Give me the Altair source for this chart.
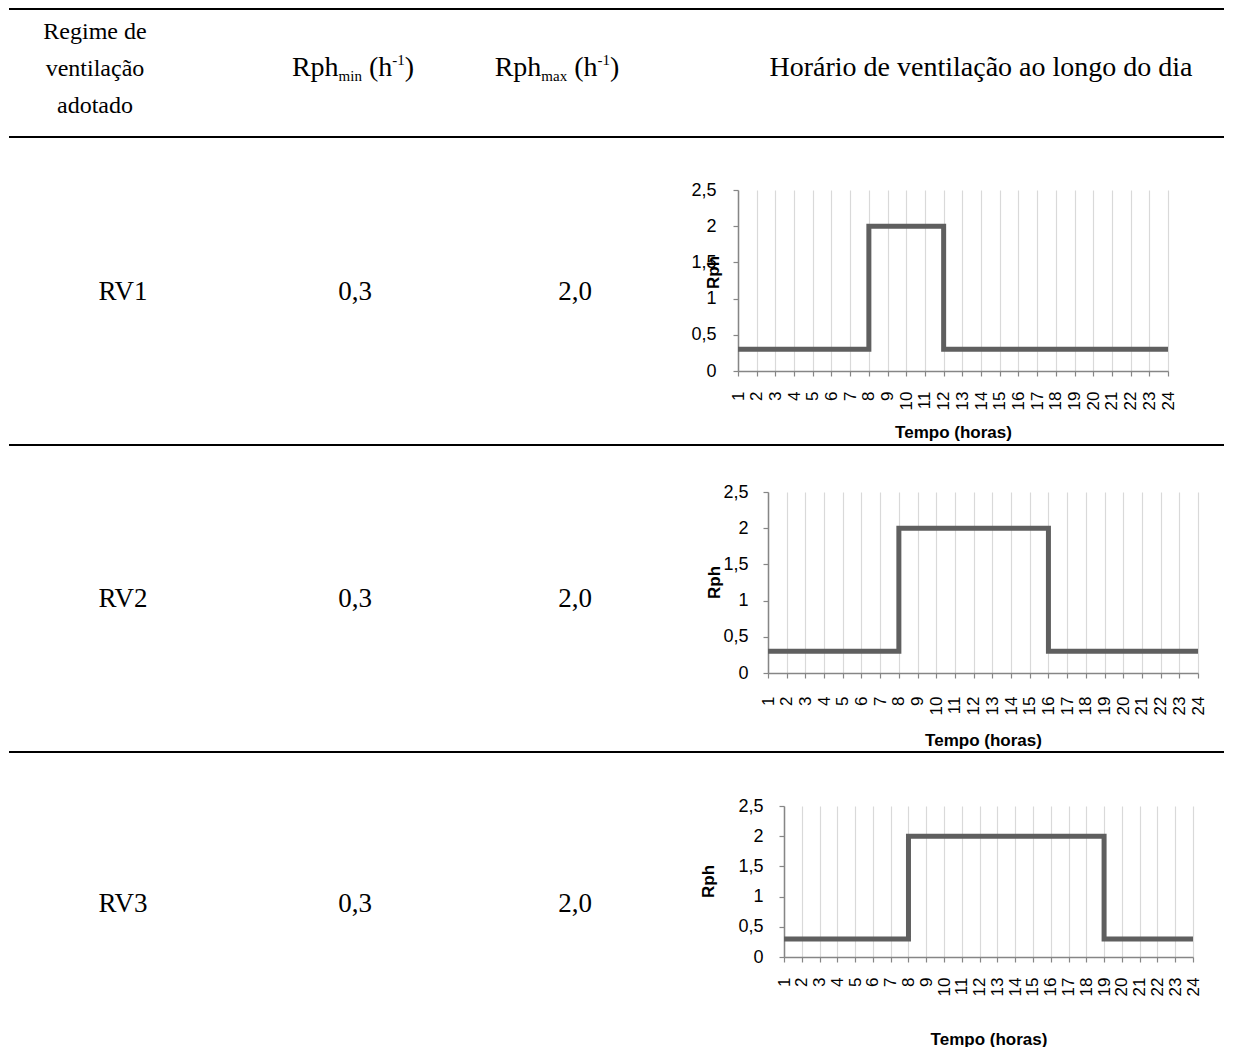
import altair as alt
import pandas as pd

# ---------------- data ----------------
hours = [1, 2, 3, 4, 5, 6, 7, 8, 9, 10, 11, 12, 13, 14, 15, 16, 17, 18, 19, 20, 21, 22, 23, 24]
rv1 = [0.3, 0.3, 0.3, 0.3, 0.3, 0.3, 0.3, 2.0, 2.0, 2.0, 2.0, 0.3,
       0.3, 0.3, 0.3, 0.3, 0.3, 0.3, 0.3, 0.3, 0.3, 0.3, 0.3, 0.3]
rv2 = [0.3, 0.3, 0.3, 0.3, 0.3, 0.3, 0.3, 2.0, 2.0, 2.0, 2.0, 2.0,
       2.0, 2.0, 2.0, 0.3, 0.3, 0.3, 0.3, 0.3, 0.3, 0.3, 0.3, 0.3]
rv3 = [0.3, 0.3, 0.3, 0.3, 0.3, 0.3, 0.3, 2.0, 2.0, 2.0, 2.0, 2.0,
       2.0, 2.0, 2.0, 2.0, 2.0, 2.0, 0.3, 0.3, 0.3, 0.3, 0.3, 0.3]
y_ticks = [0, 0.5, 1, 1.5, 2, 2.5]

regimes = ["RV1", "RV2", "RV3"]
rph_min = ["0,3", "0,3", "0,3"]
rph_max = ["2,0", "2,0", "2,0"]
header_col1 = ["Regime de", "ventilação", "adotado"]
header_col4 = "Horário de ventilação ao longo do dia"
x_title = "Tempo (horas)"
y_title = "Rph"

# ---------------- layout (content px = page px - 8) ----------------
SERIF = "Liberation Serif"
SANS = "Liberation Sans"
F = 27      # table body font
FH = 28     # header font
FH1 = 24    # first header column font
FS = 15     # sub/superscript font
head_col1_x = 94 - 8
row_col_x = [122 - 8, 354 - 8, 574 - 8]
head_min_x = 352 - 8
head_max_x = 556 - 8
head_col4_x = 980 - 8
head_base = [39 - 8, 76 - 8, 113 - 8]
row_base = [300 - 8, 607 - 8, 912 - 8]
rule_y = [1, 137 - 8, 445 - 8, 752 - 8]
RULE_END = 1215
PANEL_W = 700

TW = {'R': .667, 'p': .5, 'h': .5, 'm': .778, 'i': .278, 'n': .5, 'a': .444,
      'x': .5, ' ': .25, '(': .333, ')': .333, '-': .333, '1': .5}


def width(s, size):
    return sum(TW.get(c, .5) for c in s) * size


# centered table texts
centered = []
for i, t in enumerate(header_col1):
    centered.append({"t": t, "x": head_col1_x, "y": head_base[i], "s": FH1})
centered.append({"t": header_col4, "x": head_col4_x, "y": head_base[1], "s": FH})
for i in range(3):
    centered.append({"t": regimes[i], "x": row_col_x[0], "y": row_base[i], "s": F})
    centered.append({"t": rph_min[i], "x": row_col_x[1], "y": row_base[i], "s": F})
    centered.append({"t": rph_max[i], "x": row_col_x[2], "y": row_base[i], "s": F})
centered_df = pd.DataFrame(centered)

# header pieces with sub / superscripts: (text, size, baseline shift, gap before)
pieces = []
for cx, sub in [(head_min_x, "min"), (head_max_x, "max")]:
    parts = [("Rph", FH, 0, 0), (sub, FS, 5, 0), ("(h", FH, 0, 0.25 * FH),
             ("-1", FS, -11, 0), (")", FH, 0, 0)]
    total = sum(width(p, s) + g for p, s, _, g in parts)
    x0 = cx - total / 2
    for p, s, dy, g in parts:
        x0 += g
        pieces.append({"t": p, "x": x0, "y": head_base[1] + dy, "s": s})
        x0 += width(p, s)
pieces_df = pd.DataFrame(pieces)

rules_df = pd.DataFrame({"y": rule_y})

noax = dict(scale=None, axis=None)

rules = alt.Chart(rules_df).mark_rule(color="black", strokeWidth=2).encode(
    x=alt.value(0), x2=alt.value(RULE_END), y=alt.Y("y:Q", **noax)
)
txt_c = alt.Chart(centered_df).mark_text(
    font=SERIF, align="center", baseline="alphabetic", color="black"
).encode(x=alt.X("x:Q", **noax), y=alt.Y("y:Q", **noax), text="t:N",
         size=alt.Size("s:Q", scale=None, legend=None))
txt_p = alt.Chart(pieces_df).mark_text(
    font=SERIF, align="left", baseline="alphabetic", color="black"
).encode(x=alt.X("x:Q", **noax), y=alt.Y("y:Q", **noax), text="t:N",
         size=alt.Size("s:Q", scale=None, legend=None))

panel = alt.layer(rules, txt_c, txt_p).properties(width=PANEL_W, height=1000)


def spacer(h):
    return alt.Chart(pd.DataFrame({"v": [0]})).mark_text().encode(
        text=alt.value("")).properties(width=10, height=h)


def line_chart(values, dx, w, h, lpx, lpy, ytx, yty, xty):
    df = pd.DataFrame({"hora": hours, "rph": values})
    return alt.Chart(df).mark_line(
        interpolate="step-after", color="#5f5f5f", strokeWidth=5
    ).encode(
        x=alt.X("hora:Q",
                scale=alt.Scale(domain=[1, 24], nice=False, zero=False,
                                range=[dx, dx + w]),
                axis=alt.Axis(values=hours, title=x_title, labelAngle=270,
                              labelFlush=False, labelOverlap=False,
                              labelPadding=lpx, tickSize=5,
                              grid=True, gridColor="#d9d9d9", gridWidth=1.2,
                              titleX=dx + w / 2, titleY=xty, titleAlign="center",
                              titleBaseline="alphabetic")),
        y=alt.Y("rph:Q",
                scale=alt.Scale(domain=[0, 2.5], nice=False),
                axis=alt.Axis(values=y_ticks, title=y_title, grid=False,
                              offset=-dx,
                              labelExpr="replace(toString(datum.value), '.', ',')",
                              labelPadding=lpy, tickSize=5,
                              titleX=ytx, titleY=yty, titleAngle=270,
                              titleAlign="center", titleBaseline="middle")),
    ).properties(width=dx + w, height=h)


c1 = line_chart(rv1, 29, 430, 181, 15, 17, -25, 82, 66)
c2 = line_chart(rv2, 59, 430, 181, 18, 15, -54, 90, 72)
c3 = line_chart(rv3, 75, 409, 151, 15, 16, -76, 75, 87)

col = alt.vconcat(
    spacer(182), c1, spacer(121), c2, spacer(133), c3,
    spacing=0, bounds="flush",
)

chart = alt.hconcat(panel, col, spacing=0, bounds="flush").properties(
    padding=0
).configure_view(stroke=None).configure_axis(
    labelFont=SANS, labelFontSize=17, labelColor="black",
    titleFont=SANS, titleFontSize=17, titleFontWeight="bold", titleColor="black",
    domainColor="#868686", domainWidth=1.5, tickColor="#868686", tickWidth=1.2,
).configure_axisY(labelFontSize=18)

chart.save("out.html", embed_options={"renderer": "svg", "actions": False})
